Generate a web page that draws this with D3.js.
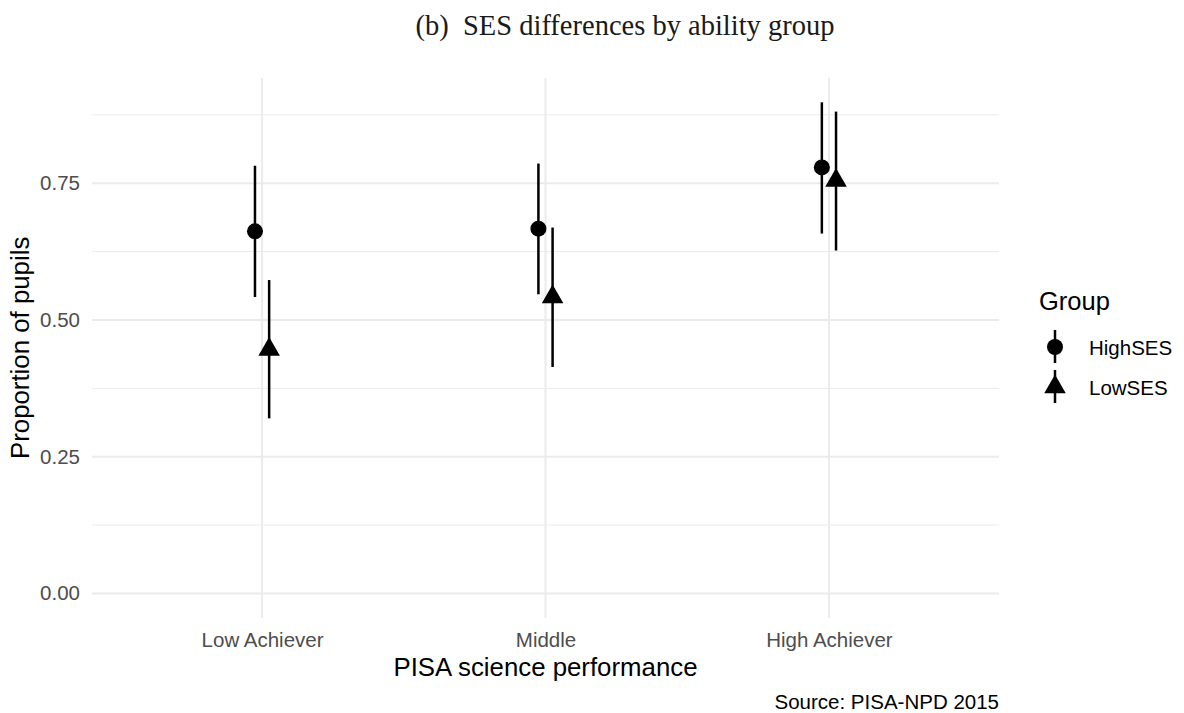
<!DOCTYPE html>
<html>
<head>
<meta charset="utf-8">
<script src="https://cdn.jsdelivr.net/npm/d3@7"></script>
<style>
  body { margin: 0; background: #fff; }
  svg { display: block; }
</style>
</head>
<body>
<svg></svg>
<script>
// values
var categories = ["Low Achiever", "Middle", "High Achiever"];
var groups = ["HighSES", "LowSES"];
var highEst = [0.662, 0.667, 0.779];
var highLo  = [0.542, 0.547, 0.658];
var highHi  = [0.782, 0.786, 0.898];
var lowEst  = [0.446, 0.542, 0.755];
var lowLo   = [0.320, 0.414, 0.627];
var lowHi   = [0.573, 0.669, 0.881];
var yTicks = [0, 0.25, 0.5, 0.75];
var yMinor = [0.125, 0.375, 0.625, 0.875];

var width = 1184, height = 713;
var svg = d3.select("svg").attr("width", width).attr("height", height);

// panel edges ("top" is taken by window.top, so use other names)
var panelL = 92, panelR = 999, panelT = 77.7, panelB = 618;

var xScale = d3.scalePoint()
               .domain(categories)
               .range([panelL, panelR])
               .padding(0.6);
var yScale = d3.scaleLinear()
               .domain([-0.045, 0.943])
               .range([panelB, panelT]);
var dodge = d3.scaleOrdinal()
              .domain(groups)
              .range([-xScale.step() * 0.025, xScale.step() * 0.025]);

function rows(name, est, lo, hi){
  return categories.map(function(c, i){
    return {cat: c, group: name, est: est[i], lo: lo[i], hi: hi[i]};
  });
}
var data = rows("HighSES", highEst, highLo, highHi)
  .concat(rows("LowSES", lowEst, lowLo, lowHi));

var sans = "'Liberation Sans', Arial, sans-serif";

// grid
svg.selectAll("line.minor")
   .data(yMinor).enter().append("line")
   .attr("x1", panelL).attr("x2", panelR)
   .attr("y1", function(d){ return yScale(d); })
   .attr("y2", function(d){ return yScale(d); })
   .attr("stroke", "#ebebeb").attr("stroke-width", 1);
svg.selectAll("line.major")
   .data(yTicks).enter().append("line")
   .attr("x1", panelL).attr("x2", panelR)
   .attr("y1", function(d){ return yScale(d); })
   .attr("y2", function(d){ return yScale(d); })
   .attr("stroke", "#ebebeb").attr("stroke-width", 2);
svg.selectAll("line.vgrid")
   .data(categories).enter().append("line")
   .attr("x1", function(d){ return xScale(d); })
   .attr("x2", function(d){ return xScale(d); })
   .attr("y1", panelT).attr("y2", panelB)
   .attr("stroke", "#ebebeb").attr("stroke-width", 2);

// axes (text only, like theme_minimal)
var yAxis = svg.append("g")
   .attr("transform", "translate(" + (panelL - 4) + ",0)")
   .call(d3.axisLeft(yScale).tickValues(yTicks).tickFormat(d3.format(".2f")).tickSize(0));
yAxis.select(".domain").remove();
yAxis.selectAll("text")
     .attr("font-family", sans).attr("font-size", "20.5px").attr("fill", "#4d4d4d")
     .attr("x", -8);

var xAxis = svg.append("g")
   .attr("transform", "translate(0," + panelB + ")")
   .call(d3.axisBottom(xScale).tickSize(0));
xAxis.select(".domain").remove();
xAxis.selectAll("text")
     .attr("font-family", sans).attr("font-size", "20.5px").attr("fill", "#4d4d4d")
     .attr("dy", null).attr("y", 28.5);

// error bars and points
svg.selectAll("line.err")
   .data(data).enter().append("line")
   .attr("x1", function(d){ return xScale(d.cat) + dodge(d.group); })
   .attr("x2", function(d){ return xScale(d.cat) + dodge(d.group); })
   .attr("y1", function(d){ return yScale(d.lo); })
   .attr("y2", function(d){ return yScale(d.hi); })
   .attr("stroke", "#000").attr("stroke-width", 2.5);

var r = 8;
function triangle(cx, cy){
  var up = 1.5551 * r, down = 0.7776 * r, half = 1.3468 * r;
  return "M" + cx + "," + (cy - up) + "L" + (cx + half) + "," + (cy + down) +
         "L" + (cx - half) + "," + (cy + down) + "Z";
}
function drawMark(sel, group, cx, cy){
  if(group === "HighSES"){
    sel.append("circle").attr("cx", cx).attr("cy", cy).attr("r", r).attr("fill", "#000");
  } else {
    sel.append("path").attr("d", triangle(cx, cy)).attr("fill", "#000");
  }
}
data.forEach(function(d){
  drawMark(svg, d.group, xScale(d.cat) + dodge(d.group), yScale(d.est));
});

// titles
svg.append("text")
   .text("(b)\u00a0\u00a0SES differences by ability group")
   .attr("x", 625).attr("y", 35)
   .attr("text-anchor", "middle")
   .attr("font-family", "'Liberation Serif', 'Times New Roman', serif")
   .attr("font-size", "28.5px").attr("fill", "#1a1a1a");

svg.append("text")
   .text("PISA science performance")
   .attr("x", (panelL + panelR) / 2).attr("y", 676)
   .attr("text-anchor", "middle")
   .attr("font-family", sans).attr("font-size", "25.8px").attr("fill", "#000");

svg.append("text")
   .text("Proportion of pupils")
   .attr("transform", "translate(28.5," + ((panelT + panelB) / 2) + ") rotate(-90)")
   .attr("text-anchor", "middle")
   .attr("font-family", sans).attr("font-size", "25.8px").attr("fill", "#000");

svg.append("text")
   .text("Source: PISA-NPD 2015")
   .attr("x", 999).attr("y", 709)
   .attr("text-anchor", "end")
   .attr("font-family", sans).attr("font-size", "20.5px").attr("fill", "#000");

// legend
var legend = svg.append("g");
legend.append("text")
      .text("Group")
      .attr("x", 1039).attr("y", 310)
      .attr("font-family", sans).attr("font-size", "25.5px").attr("fill", "#000");
var keyY = d3.scaleOrdinal().domain(groups).range([347, 387]);
groups.forEach(function(g){
  var cy = keyY(g);
  legend.append("line")
        .attr("x1", 1055).attr("x2", 1055)
        .attr("y1", cy - 17).attr("y2", cy + 16)
        .attr("stroke", "#000").attr("stroke-width", 2.5);
  drawMark(legend, g, 1055, cy);
  legend.append("text")
        .text(g)
        .attr("x", 1089).attr("y", cy + 8)
        .attr("font-family", sans).attr("font-size", "20.5px").attr("fill", "#000");
});
</script>
</body>
</html>
